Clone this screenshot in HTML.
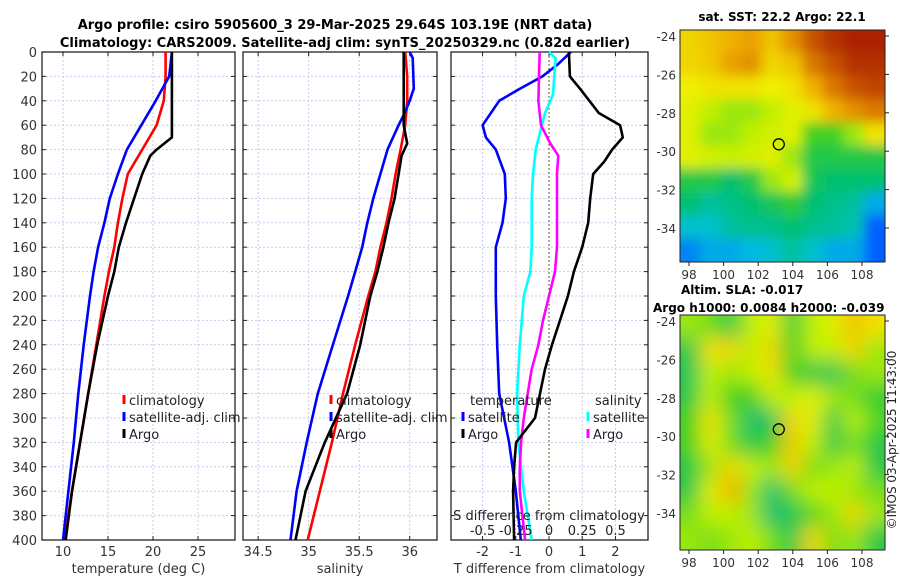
<!DOCTYPE html>
<html><head><meta charset="utf-8"><style>
body{margin:0;background:#fff;}
svg{display:block;font-family:"DejaVu Sans","Liberation Sans",sans-serif;}
</style></head><body>
<svg id="fig" width="900" height="580" viewBox="0 0 900 580" xmlns="http://www.w3.org/2000/svg">
<rect width="900" height="580" fill="#fff"/>
<text x="335" y="29" text-anchor="middle" font-size="13" font-weight="bold">Argo profile: csiro 5905600_3 29-Mar-2025 29.64S 103.19E (NRT data)</text>
<text x="345" y="47" text-anchor="middle" font-size="13" font-weight="bold">Climatology: CARS2009. Satellite-adj clim: synTS_20250329.nc (0.82d earlier)</text>
<g id="plots"></g>
<text x="782" y="21" text-anchor="middle" font-size="12" font-weight="bold">sat. SST: 22.2 Argo: 22.1</text>
<text x="681" y="294" font-size="12" font-weight="bold">Altim. SLA: -0.017</text>
<text x="653" y="312" font-size="12" font-weight="bold">Argo h1000: 0.0084 h2000: -0.039</text>
<text transform="translate(896,440) rotate(-90)" text-anchor="middle" font-size="12" fill="#222">©IMOS 03-Apr-2025 11:43:00</text>
</svg>
<script>
// depth levels (m)
const depths = [0,20,40,60,80,100,120,140,160,180,200,240,280,320,360,400];
// temperature profiles (deg C)
const tClim = [21.4,21.4,21.2,20.4,18.8,17.2,16.6,16.1,15.7,15.1,14.6,13.7,12.8,11.9,11.0,10.2];
const tSat  = [22.1,21.8,20.3,18.7,17.1,16.1,15.2,14.6,13.9,13.4,13.0,12.3,11.7,11.2,10.6,10.0];
const tArgoDepth = [0,20,40,60,70,80,85,90,100,120,140,160,180,200,240,280,320,360,400];
const tArgo = [22.1,22.1,22.1,22.1,22.1,20.4,19.7,19.4,18.8,17.9,17.0,16.2,15.7,15.0,13.8,12.8,11.9,11.0,10.3];
// salinity profiles
const sClim = [35.955,35.975,35.975,35.955,35.91,35.86,35.82,35.77,35.71,35.66,35.59,35.46,35.34,35.23,35.11,34.99];
const sSatDepth = [0,5,30,40,50,60,80,100,120,140,160,180,200,240,280,320,360,400];
const sSat = [36.0,36.03,36.04,36.0,35.95,35.89,35.78,35.71,35.64,35.58,35.53,35.46,35.39,35.24,35.09,34.98,34.88,34.82];
const sArgoDepth = [0,40,60,75,85,100,120,140,160,180,200,240,280,320,360,400];
const sArgo = [35.94,35.94,35.94,35.975,35.92,35.89,35.85,35.79,35.74,35.68,35.61,35.51,35.38,35.16,34.97,34.87];
// differences from climatology
const dTSatDepth = [0,10,20,30,40,60,70,80,100,120,140,160,180,200,240,280,320,360,400];
const dTSat = [0.66,0.27,-0.2,-0.87,-1.5,-2.0,-1.9,-1.6,-1.33,-1.3,-1.4,-1.6,-1.6,-1.6,-1.56,-1.5,-1.2,-1.0,-0.85];
const dTArgoDepth = [0,20,30,50,60,70,80,90,100,120,140,160,180,200,220,240,260,280,300,320,340,360,400];
const dTArgo = [0.6,0.63,0.93,1.5,2.14,2.22,1.9,1.66,1.33,1.24,1.18,1.0,0.75,0.57,0.33,0.09,-0.12,-0.27,-0.42,-0.99,-1.05,-1.08,-1.05];
const dSSatDepth = [0,5,20,35,50,80,100,120,160,180,200,240,280,320,360,400];
const dSSat = [0,0.05,0.04,0.03,-0.03,-0.1,-0.12,-0.13,-0.13,-0.14,-0.19,-0.22,-0.24,-0.23,-0.19,-0.13];
const dSArgoDepth = [0,20,40,60,75,85,100,120,160,180,200,220,240,260,280,300,320,340,360,380,400];
const dSArgo = [-0.07,-0.075,-0.08,-0.06,0.01,0.07,0.06,0.06,0.06,0.045,0,-0.045,-0.08,-0.13,-0.16,-0.19,-0.21,-0.22,-0.22,-0.2,-0.18];
// map ticks
const lonTicks = [98,100,102,104,106,108];
const latTicks = [-24,-26,-28,-30,-32,-34];
// SST field (normalised 0..1), rows north->south
const sstField = [
[.72,.75,.78,.8,.75,.82,.9,.95,.97,.97],
[.72,.74,.8,.82,.72,.75,.85,.9,.95,.95],
[.68,.7,.7,.7,.68,.7,.78,.85,.9,.92],
[.66,.62,.6,.6,.62,.66,.7,.78,.82,.85],
[.66,.6,.6,.62,.64,.66,.55,.55,.6,.7],
[.66,.64,.63,.64,.66,.6,.5,.5,.5,.5],
[.5,.5,.45,.5,.6,.64,.48,.45,.45,.45],
[.45,.4,.42,.45,.48,.52,.45,.42,.4,.3],
[.35,.35,.4,.42,.42,.45,.42,.4,.38,.2],
[.25,.3,.3,.32,.35,.4,.35,.3,.3,.2]];
// SLA field (normalised 0..1)
const slaField = [
[.6,.58,.5,.62,.66,.52,.62,.66,.75,.7],
[.5,.7,.72,.62,.72,.55,.62,.62,.72,.6],
[.48,.62,.6,.62,.7,.55,.5,.48,.58,.6],
[.5,.62,.55,.55,.62,.62,.66,.6,.58,.52],
[.55,.7,.58,.45,.48,.72,.66,.5,.62,.56],
[.55,.66,.58,.5,.55,.74,.62,.5,.58,.5],
[.5,.6,.72,.62,.6,.72,.58,.6,.62,.5],
[.5,.66,.78,.6,.45,.58,.62,.62,.6,.58],
[.58,.62,.62,.6,.45,.48,.56,.6,.72,.6],
[.6,.58,.6,.62,.58,.5,.72,.58,.6,.5]];
const argoLon = 103.19, argoLat = -29.64;

const NS="http://www.w3.org/2000/svg";
const root=document.getElementById('plots');
function el(tag,attrs,parent){const e=document.createElementNS(NS,tag);for(const k in attrs)e.setAttribute(k,attrs[k]);(parent||root).appendChild(e);return e;}
const Y0=52,Y1=540;
const yD=d=>Y0+(d/400)*(Y1-Y0);
const depthTicks=[];for(let d=0;d<=400;d+=20)depthTicks.push(d);

function panel(name,x0,x1,xmin,xmax,ticks,tickFmt,xlabel,showY){
  const g=el('g',{});
  
  
  const xs=v=>x0+(v-xmin)/(xmax-xmin)*(x1-x0);
  depthTicks.forEach(d=>{const l=el('line',{x1:x0,x2:x1,y1:yD(d),y2:yD(d),stroke:'#c4cbee','stroke-width':1,'stroke-dasharray':'2,2'},g);
    
    if(showY){const t=el('text',{x:x0-5,y:yD(d)+5,'text-anchor':'end','font-size':13,fill:'#333'},g);t.textContent=d;
      }
    el('line',{x1:x0,x2:x0+4,y1:yD(d),y2:yD(d),stroke:'#222'},g);el('line',{x1:x1-4,x2:x1,y1:yD(d),y2:yD(d),stroke:'#222'},g);});
  ticks.forEach(v=>{const X=xs(v);const l=el('line',{x1:X,x2:X,y1:Y0,y2:Y1,stroke:'#c4cbee','stroke-width':1,'stroke-dasharray':'2,2'},g);
    
    el('line',{x1:X,x2:X,y1:Y1-4,y2:Y1,stroke:'#222'},g);el('line',{x1:X,x2:X,y1:Y0,y2:Y0+4,stroke:'#222'},g);
    const t=el('text',{x:X,y:Y1+16,'text-anchor':'middle','font-size':13,fill:'#333'},g);t.textContent=tickFmt(v);
    });
  const fr=el('rect',{x:x0,y:Y0,width:x1-x0,height:Y1-Y0,fill:'none',stroke:'#222','stroke-width':1.3},g);
  
  const xl=el('text',{x:(x0+x1)/2,y:573,'text-anchor':'middle','font-size':13,fill:'#333'},g);xl.textContent=xlabel;
  
  return {g,xs};
}
function line(p,dep,vals,color,nm,scale){
  const pts=dep.map((d,i)=>p.xs(vals[i]*(scale||1)).toFixed(1)+','+yD(d).toFixed(1)).join(' ');
  const l=el('polyline',{points:pts,fill:'none',stroke:color,'stroke-width':2.6,'stroke-linejoin':'round'},p.g);
  
}
function legend(p,x,y,color,label,nm){
  const m=el('line',{x1:x,x2:x,y1:y-10,y2:y-1,stroke:color,'stroke-width':3},p.g);
  
  const t=el('text',{x:x+5,y:y,'font-size':13,fill:'#222'},p.g);t.textContent=label;
  
}
const p1=panel('temperature-panel',42,235,7.667,29.11,[10,15,20,25],v=>v,'temperature (deg C)',true);
line(p1,depths,tClim,'#f00','temperature-climatology-line');
line(p1,depths,tSat,'#00f','temperature-satellite-line');
line(p1,tArgoDepth,tArgo,'#000','temperature-argo-line');
legend(p1,124,405,'#f00','climatology','legend-climatology');
legend(p1,124,422,'#00f','satellite-adj. clim','legend-satellite');
legend(p1,124,439,'#000','Argo','legend-argo');
const p2=panel('salinity-panel',243,437,34.35,36.27,[34.5,35,35.5,36],v=>v,'salinity',false);
line(p2,depths,sClim,'#f00','salinity-climatology-line');
line(p2,sSatDepth,sSat,'#00f','salinity-satellite-line');
line(p2,sArgoDepth,sArgo,'#000','salinity-argo-line');
legend(p2,331,405,'#f00','climatology','legend-climatology-s');
legend(p2,331,422,'#00f','satellite-adj. clim','legend-satellite-s');
legend(p2,331,439,'#000','Argo','legend-argo-s');
const p3=panel('difference-panel',451,648,-2.95,2.98,[-2,-1,0,1,2],v=>v,'T difference from climatology',false);
const z=p3.xs(0);
const dl=el('line',{x1:z,x2:z,y1:Y0,y2:Y1,stroke:'#556b2f','stroke-width':1.2,'stroke-dasharray':'1.5,2.5'},p3.g);

line(p3,dTSatDepth,dTSat,'#00f','t-diff-satellite-line');
line(p3,dSSatDepth,dSSat,'#0ff','s-diff-satellite-line',4);
line(p3,dSArgoDepth,dSArgo,'#f0f','s-diff-argo-line',4);
line(p3,dTArgoDepth,dTArgo,'#000','t-diff-argo-line');
const tt=el('text',{x:470,y:405,'font-size':13,fill:'#222'},p3.g);tt.textContent='temperature';

const st=el('text',{x:595,y:405,'font-size':13,fill:'#222'},p3.g);st.textContent='salinity';

legend(p3,463,422,'#00f','satellite','legend-t-satellite');
legend(p3,463,439,'#000','Argo','legend-t-argo');
legend(p3,588,422,'#0ff','satellite','legend-s-satellite');
legend(p3,588,439,'#f0f','Argo','legend-s-argo');
const sl=el('text',{x:549,y:520,'text-anchor':'middle','font-size':13,fill:'#222'},p3.g);sl.textContent='S difference from climatology';

[-0.5,-0.25,0,0.25,0.5].forEach(v=>{const t=el('text',{x:p3.xs(v*4),y:535,'text-anchor':'middle','font-size':13,fill:'#222'},p3.g);
  t.textContent=v;});

const stops=[[0,[0,0,160]],[.2,[0,96,255]],[.33,[0,192,224]],[.45,[0,192,112]],[.55,[64,208,32]],[.62,[192,240,0]],[.68,[240,240,0]],[.78,[240,176,0]],[.88,[208,96,0]],[1,[160,16,0]]];
function col(v){for(let i=1;i<stops.length;i++){if(v<=stops[i][0]){const a=stops[i-1],b=stops[i];const f=(v-a[0])/(b[0]-a[0]);
  return 'rgb('+a[1].map((c,k)=>Math.round(c+(b[1][k]-c)*f)).join(',')+')';}}return 'rgb(160,16,0)';}
function map(name,field,x0,y0,w,h,blur){
  const g=el('g',{});
  
  
  const id=name+'-clip';
  const cp=el('clipPath',{id},g);el('rect',{x:x0,y:y0,width:w,height:h},cp);
  const fid=name+'-blur';const f=el('filter',{id:fid,x:'-10%',y:'-10%',width:'120%',height:'120%'},g);el('feGaussianBlur',{stdDeviation:blur},f);
  const cg=el('g',{'clip-path':'url(#'+id+')'},g);const ig=el('g',{filter:'url(#'+fid+')'},cg);
  const R=field.length,C=field[0].length,cw=w/C,ch=h/R;
  field.forEach((row,r)=>row.forEach((v,c)=>{
    const ex=(c===0?-20:0),ey=(r===0?-20:0),ew=(c===C-1?20:0)-ex,eh=(r===R-1?20:0)-ey;
    const rc=el('rect',{x:x0+c*cw-0.5+ex,y:y0+r*ch-0.5+ey,width:cw+1+ew,height:ch+1+eh,fill:col(v)},ig);
    }));
  const lx=lon=>689+17.3*(lon-98);
  const ly=lat=>y0+6+(-24-lat)*19.2;
  el('rect',{x:x0,y:y0,width:w,height:h,fill:'none',stroke:'#222','stroke-width':1},g);
  lonTicks.forEach(v=>{el('line',{x1:lx(v),x2:lx(v),y1:y0+h,y2:y0+h+4,stroke:'#222'},g);
    const t=el('text',{x:lx(v),y:y0+h+17,'text-anchor':'middle','font-size':12,fill:'#333'},g);t.textContent=v;
    });
  latTicks.forEach(v=>{el('line',{x1:x0+w,x2:x0+w+4,y1:ly(v),y2:ly(v),stroke:'#222'},g);
    const t=el('text',{x:x0-4,y:ly(v)+5,'text-anchor':'end','font-size':12,fill:'#333'},g);t.textContent=v;
    });
  const c=el('circle',{cx:lx(argoLon),cy:ly(argoLat),r:5.5,fill:'none',stroke:'#000','stroke-width':1.3},g);
  
}
map('sst-map',sstField,680,30,205,232,6);
map('sla-map',slaField,680,315,205,235,10);
</script>
</body></html>
